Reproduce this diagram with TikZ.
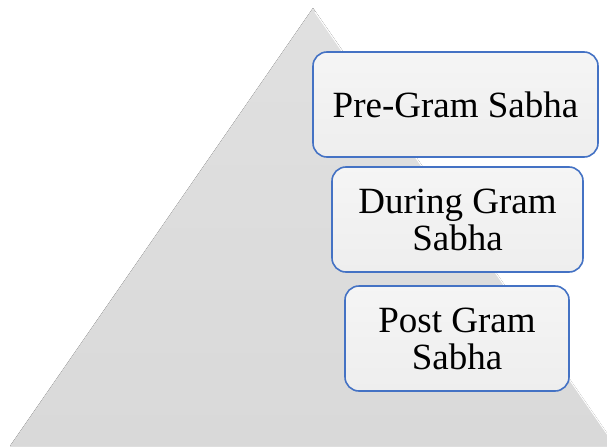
\documentclass[tikz,border=0pt]{standalone}
\usepackage{fontspec}
\setmainfont{Liberation Serif}
\definecolor{pyrgray}{RGB}{217,217,217}
\definecolor{pyrtop}{RGB}{224,224,224}
\definecolor{boxblue}{RGB}{68,114,196}
\definecolor{boxfill}{RGB}{238,238,238}
\tikzset{
  stagebox/.style={draw=boxblue, line width=1.6pt, rounded corners=14pt,
    top color=boxfill!60!white, bottom color=boxfill,
    align=center, inner sep=0pt, minimum height=105pt,
    font=\fontsize{37}{37}\selectfont}
}
\begin{document}
\begin{tikzpicture}[x=1pt,y=-1pt]
                \useasboundingbox (0,0) rectangle (607,447);
                %% pyramid
                \begin{scope}
                    \clip (0,0) rectangle (607,447);
                    \fill[top color=pyrtop, bottom color=pyrgray] (313,8) -- (616,446) -- (10,446) -- cycle;
                    \draw[white, line width=1pt] (315,12) -- (612,441);
                \end{scope}
                %% stages
                \node[stagebox, minimum width=285pt] (pre) at (455.5,104.5) {Pre-Gram Sabha};
                \node[stagebox, minimum width=251pt] (during) at (457.5,219.5) {During Gram\\Sabha};
                \node[stagebox, minimum width=224pt] (post) at (457,338.5) {Post Gram\\Sabha};
            \end{tikzpicture}
\end{document}
